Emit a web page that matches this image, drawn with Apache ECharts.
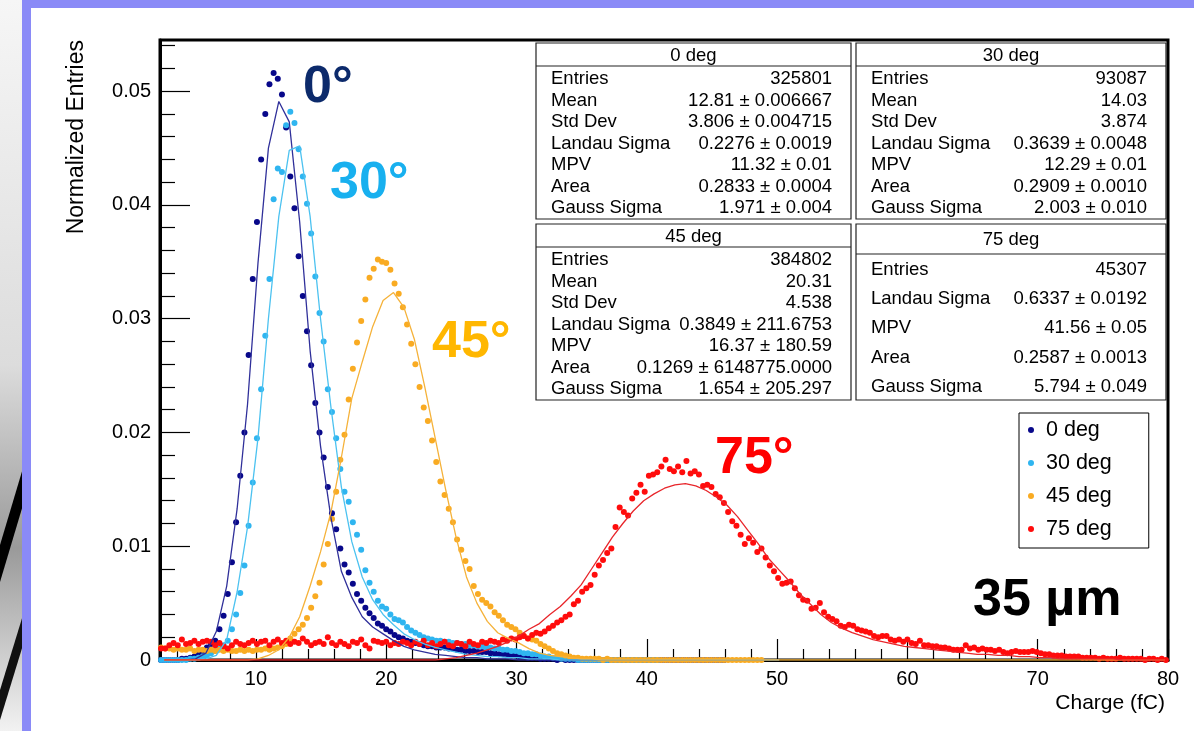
<!DOCTYPE html>
<html lang="en">
<head>
  <meta charset="UTF-8">
  <title>Charge 35 µm</title>
  <script src="https://cdn.jsdelivr.net/npm/echarts@6/dist/echarts.min.js"></script>
  <style>
    html, body { margin: 0; padding: 0; background: #fff; }
    #chart { width: 1194px; height: 731px; }
  </style>
</head>
<body>
  <div id="chart"></div>
  <script>
    // histogram bins: 0.32 fC wide, centre of first visible bin
    const binStart = 2.72
    const binWidth = 0.32
    // fit curves are sampled every 0.8 fC
    const fitStart = 2.96
    const fitStep = 0.8

    const xMajor = [10, 20, 30, 40, 50, 60, 70, 80]
    const xMinor = [4, 6, 8, 12, 14, 16, 18, 22, 24, 26, 28, 32, 34, 36, 38, 42, 44, 46, 48,
      52, 54, 56, 58, 62, 64, 66, 68, 72, 74, 76, 78]
    const yMajor = [0, 0.01, 0.02, 0.03, 0.04, 0.05]
    const yMinor = [0.002, 0.004, 0.006, 0.008, 0.012, 0.014, 0.016, 0.018, 0.022, 0.024, 0.026, 0.028,
      0.032, 0.034, 0.036, 0.038, 0.042, 0.044, 0.046, 0.048, 0.052, 0.054]

    const names = ['0 deg', '30 deg', '45 deg', '75 deg']

    // 0 deg histogram (rows of 10 bins, row start in comment)
    const deg0 = [
      0, 0, 0, 0, 0, 0.0001, 0.0001, 0.0002, 0.0003, 0.0005,                              // 2.72
      0.0008, 0.0011, 0.0014, 0.0017, 0.0027, 0.0039, 0.0058, 0.0086, 0.0121, 0.0162,     // 5.92
      0.0200, 0.0268, 0.0335, 0.0385, 0.0440, 0.0480, 0.0506, 0.0516, 0.0511, 0.0497,     // 9.12
      0.0468, 0.0425, 0.0397, 0.0355, 0.0320, 0.0289, 0.0259, 0.0226, 0.0200, 0.0178,     // 12.32
      0.0152, 0.0129, 0.0115, 0.0098, 0.0084, 0.0077, 0.0067, 0.0058, 0.0052, 0.0046,     // 15.52
      0.0041, 0.0037, 0.0032, 0.0030, 0.0027, 0.0025, 0.0022, 0.0020, 0.0019, 0.0017,     // 18.72
      0.0016, 0.0015, 0.0014, 0.0013, 0.0012, 0.0012, 0.0011, 0.0011, 0.0011, 0.0010,     // 21.92
      0.0010, 0.0009, 0.0009, 0.0008, 0.0008, 0.0008, 0.0007, 0.0007, 0.0007, 0.0006,     // 25.12
      0.0006, 0.0005, 0.0005, 0.0005, 0.0004, 0.0004, 0.0003, 0.0003, 0.0002, 0.0002,     // 28.32
      0.0002, 0.0001, 0.0001, 0.0001, 0.0001, 0, 0.0001, 0, 0, 0,                         // 31.52
      0, 0, 0, 0, 0, 0, 0, 0, 0, 0,                                                       // 34.72
      0, 0, 0, 0, 0, 0, 0, 0, 0, 0,                                                       // 37.92
      0, 0, 0, 0, 0, 0, 0, 0, 0, 0,                                                       // 41.12
      0, 0, 0, 0, 0, 0                                                                    // 44.32
    ]
    const deg30 = [
      0, 0, 0, 0, 0, 0, 0, 0.0001, 0.0001, 0.0002,                                        // 2.72
      0.0003, 0.0004, 0.0006, 0.0008, 0.0010, 0.0013, 0.0017, 0.0027, 0.0040, 0.0059,     // 5.92
      0.0083, 0.0118, 0.0156, 0.0195, 0.0238, 0.0285, 0.0335, 0.0405, 0.0432, 0.0429,     // 9.12
      0.0470, 0.0482, 0.0472, 0.0449, 0.0425, 0.0401, 0.0375, 0.0337, 0.0305, 0.0280,     // 12.32
      0.0238, 0.0218, 0.0195, 0.0168, 0.0148, 0.0139, 0.0121, 0.0110, 0.0097, 0.0079,     // 15.52
      0.0068, 0.0060, 0.0052, 0.0047, 0.0045, 0.0040, 0.0036, 0.0035, 0.0033, 0.0029,     // 18.72
      0.0026, 0.0024, 0.0022, 0.0020, 0.0019, 0.0018, 0.0017, 0.0017, 0.0016, 0.0016,     // 21.92
      0.0015, 0.0015, 0.0014, 0.0014, 0.0013, 0.0013, 0.0012, 0.0012, 0.0011, 0.0011,     // 25.12
      0.0010, 0.0010, 0.0009, 0.0009, 0.0008, 0.0008, 0.0007, 0.0006, 0.0006, 0.0005,     // 28.32
      0.0005, 0.0004, 0.0003, 0.0003, 0.0002, 0.0002, 0.0001, 0.0001, 0.0001, 0.0001,     // 31.52
      0, 0, 0, 0, 0, 0, 0, 0, 0, 0,                                                       // 34.72
      0, 0, 0, 0, 0, 0, 0, 0, 0, 0                                                        // 37.92
    ]
    const deg45 = [
      0.0011, 0.0010, 0.0010, 0.0009, 0.0010, 0.0009, 0.0009, 0.0010, 0.0008, 0.0009,     // 2.72
      0.0009, 0.0008, 0.0009, 0.0008, 0.0009, 0.0008, 0.0009, 0.0008, 0.0008, 0.0009,     // 5.92
      0.0008, 0.0009, 0.0008, 0.0009, 0.0009, 0.0010, 0.0009, 0.0010, 0.0011, 0.0012,     // 9.12
      0.0014, 0.0019, 0.0023, 0.0027, 0.0031, 0.0037, 0.0046, 0.0056, 0.0068, 0.0084,     // 12.32
      0.0102, 0.0124, 0.0148, 0.0176, 0.0198, 0.0229, 0.0256, 0.0279, 0.0298, 0.0317,     // 15.52
      0.0336, 0.0344, 0.0352, 0.0350, 0.0349, 0.0343, 0.0331, 0.0322, 0.0310, 0.0295,     // 18.72
      0.0278, 0.0260, 0.0240, 0.0222, 0.0210, 0.0193, 0.0174, 0.0157, 0.0145, 0.0133,     // 21.92
      0.0121, 0.0106, 0.0097, 0.0087, 0.0080, 0.0065, 0.0058, 0.0053, 0.0050, 0.0047,     // 25.12
      0.0042, 0.0039, 0.0035, 0.0031, 0.0029, 0.0027, 0.0024, 0.0021, 0.0019, 0.0018,     // 28.32
      0.0017, 0.0014, 0.0012, 0.0010, 0.0008, 0.0006, 0.0005, 0.0004, 0.0003, 0.0002,     // 31.52
      0.0002, 0.0001, 0.0001, 0.0001, 0.0001, 0.0001, 0, 0.0001, 0, 0,                    // 34.72
      0, 0, 0, 0, 0, 0, 0, 0, 0, 0,                                                       // 37.92
      0, 0, 0, 0, 0, 0, 0, 0, 0, 0,                                                       // 41.12
      0, 0, 0, 0, 0, 0, 0, 0, 0, 0,                                                       // 44.32
      0, 0, 0, 0, 0                                                                       // 47.52
    ]
    const deg75 = [
      0.0010, 0.0010, 0.0013, 0.0015, 0.0013, 0.0018, 0.0014, 0.0015, 0.0017, 0.0014,     // 2.72
      0.0016, 0.0017, 0.0016, 0.0013, 0.0015, 0.0012, 0.0010, 0.0013, 0.0016, 0.0014,     // 5.92
      0.0013, 0.0015, 0.0017, 0.0014, 0.0016, 0.0017, 0.0013, 0.0016, 0.0018, 0.0015,     // 9.12
      0.0017, 0.0014, 0.0016, 0.0015, 0.0019, 0.0016, 0.0013, 0.0015, 0.0016, 0.0014,     // 12.32
      0.0020, 0.0015, 0.0013, 0.0016, 0.0014, 0.0012, 0.0016, 0.0015, 0.0018, 0.0013,     // 15.52
      0.0010, 0.0017, 0.0016, 0.0015, 0.0016, 0.0013, 0.0015, 0.0014, 0.0016, 0.0015,     // 18.72
      0.0013, 0.0016, 0.0014, 0.0017, 0.0013, 0.0015, 0.0012, 0.0014, 0.0016, 0.0013,     // 21.92
      0.0012, 0.0015, 0.0014, 0.0012, 0.0016, 0.0014, 0.0013, 0.0016, 0.0015, 0.0017,     // 25.12
      0.0016, 0.0015, 0.0018, 0.0017, 0.0019, 0.0018, 0.0020, 0.0021, 0.0019, 0.0022,     // 28.32
      0.0024, 0.0023, 0.0025, 0.0028, 0.0030, 0.0033, 0.0035, 0.0038, 0.0040, 0.0049,     // 31.52
      0.0052, 0.0060, 0.0063, 0.0066, 0.0075, 0.0083, 0.0088, 0.0094, 0.0098, 0.0117,     // 34.72
      0.0134, 0.0130, 0.0127, 0.0142, 0.0147, 0.0154, 0.0148, 0.0162, 0.0163, 0.0165,     // 37.92
      0.0170, 0.0176, 0.0168, 0.0166, 0.0170, 0.0165, 0.0175, 0.0164, 0.0166, 0.0163,     // 41.12
      0.0153, 0.0154, 0.0152, 0.0146, 0.0143, 0.0138, 0.0130, 0.0122, 0.0118, 0.0110,     // 44.32
      0.0102, 0.0107, 0.0103, 0.0095, 0.0098, 0.0090, 0.0083, 0.0078, 0.0072, 0.0067,     // 47.52
      0.0068, 0.0069, 0.0063, 0.0057, 0.0053, 0.0052, 0.0045, 0.0046, 0.0050, 0.0042,     // 50.72
      0.0038, 0.0036, 0.0034, 0.0030, 0.0029, 0.0031, 0.0030, 0.0027, 0.0026, 0.0025,     // 53.92
      0.0024, 0.0021, 0.0020, 0.0021, 0.0021, 0.0018, 0.0017, 0.0018, 0.0016, 0.0018,     // 57.12
      0.0015, 0.0014, 0.0017, 0.0013, 0.0013, 0.0012, 0.0012, 0.0011, 0.0011, 0.0010,     // 60.32
      0.0009, 0.0009, 0.0009, 0.0013, 0.0010, 0.0011, 0.0009, 0.0010, 0.0009, 0.0009,     // 63.52
      0.0008, 0.0009, 0.0007, 0.0006, 0.0007, 0.0008, 0.0007, 0.0007, 0.0007, 0.0008,     // 66.72
      0.0007, 0.0006, 0.0005, 0.0005, 0.0004, 0.0004, 0.0004, 0.0003, 0.0003, 0.0003,     // 69.92
      0.0003, 0.0002, 0.0002, 0.0002, 0.0002, 0.0001, 0.0002, 0.0001, 0.0001, 0.0001,     // 73.12
      0.0002, 0.0001, 0.0001, 0.0001, 0.0001, 0.0001, 0, 0.0001, 0.0001, 0,               // 76.32
      0.0001, 0                                                                           // 79.52
    ]

    // Landau (x) Gauss fits, rows of 10 samples
    const fit0 = [
      0, 0, 0, 0.0001, 0.0006, 0.0025, 0.0065, 0.0133, 0.0225, 0.0349,                   // 2.96
      0.0450, 0.0491, 0.0473, 0.0385, 0.0272, 0.0188, 0.0125, 0.0078, 0.0055, 0.0038,     // 10.96
      0.0029, 0.0023, 0.0017, 0.0012, 0.0009, 0.0007, 0.0005, 0.0004, 0.0003, 0.0002,     // 18.96
      0.0002, 0.0001, 0.0001, 0.0001, 0, 0, 0, 0, 0, 0,                                   // 26.96
      0, 0, 0, 0, 0, 0, 0, 0, 0, 0,                                                       // 34.96
      0, 0, 0, 0, 0, 0, 0, 0, 0, 0                                                        // 42.96
    ]
    const fit30 = [
      0, 0, 0, 0, 0.0001, 0.0004, 0.0018, 0.0060, 0.0117, 0.0195,                         // 2.96
      0.0300, 0.0390, 0.0448, 0.0452, 0.0390, 0.0300, 0.0222, 0.0152, 0.0104, 0.0073,     // 10.96
      0.0053, 0.0040, 0.0031, 0.0023, 0.0018, 0.0014, 0.0011, 0.0009, 0.0007, 0.0005,     // 18.96
      0.0004, 0.0003, 0.0003, 0.0002, 0.0002, 0.0001, 0.0001, 0.0001, 0, 0,               // 26.96
      0, 0, 0, 0, 0, 0, 0, 0, 0, 0,                                                       // 34.96
      0, 0, 0, 0, 0, 0, 0, 0, 0, 0                                                        // 42.96
    ]
    const fit45 = [
      0, 0, 0, 0, 0, 0, 0, 0, 0, 0.0001,                                                  // 2.96
      0.0004, 0.0009, 0.0020, 0.0038, 0.0065, 0.0095, 0.0130, 0.0178, 0.0230, 0.0262,     // 10.96
      0.0293, 0.0316, 0.0323, 0.0310, 0.0282, 0.0240, 0.0195, 0.0150, 0.0108, 0.0073,     // 18.96
      0.0050, 0.0034, 0.0024, 0.0019, 0.0015, 0.0010, 0.0006, 0.0004, 0.0003, 0.0002,     // 26.96
      0.0001, 0.0001, 0, 0, 0, 0, 0, 0, 0, 0,                                             // 34.96
      0, 0, 0, 0, 0, 0, 0, 0, 0, 0,                                                       // 42.96
      0, 0, 0, 0, 0, 0, 0, 0, 0, 0,                                                       // 50.96
      0, 0, 0, 0, 0, 0, 0, 0, 0, 0,                                                       // 58.96
      0, 0, 0, 0, 0, 0, 0, 0, 0, 0,                                                       // 66.96
      0, 0, 0, 0, 0, 0, 0                                                                 // 74.96
    ]
    const fit75 = [
      0, 0, 0, 0, 0, 0, 0, 0, 0, 0,                                                       // 2.96
      0, 0, 0, 0, 0, 0, 0, 0, 0, 0,                                                       // 10.96
      0, 0, 0, 0, 0, 0, 0, 0.0001, 0.0002, 0.0004,                                        // 18.96
      0.0006, 0.0009, 0.0012, 0.0016, 0.0021, 0.0027, 0.0032, 0.0040, 0.0047, 0.0056,     // 26.96
      0.0066, 0.0080, 0.0094, 0.0108, 0.0120, 0.0131, 0.0140, 0.0146, 0.0151, 0.0154,     // 34.96
      0.0155, 0.0153, 0.0149, 0.0143, 0.0136, 0.0126, 0.0114, 0.0102, 0.0089, 0.0079,     // 42.96
      0.0069, 0.0058, 0.0049, 0.0040, 0.0033, 0.0028, 0.0024, 0.0021, 0.0018, 0.0016,     // 50.96
      0.0014, 0.0012, 0.0011, 0.0010, 0.0009, 0.0008, 0.0007, 0.0006, 0.0005, 0.0005,     // 58.96
      0.0004, 0.0004, 0.0003, 0.0003, 0.0002, 0.0002, 0.0001, 0.0001, 0.0001, 0.0001,     // 66.96
      0.0001, 0.0001, 0, 0, 0, 0, 0                                                       // 74.96
    ]

    // stat boxes text
    const statTitles = ['0 deg', '30 deg', '45 deg', '75 deg']
    const statRows = [
      [['Entries', '325801'], ['Mean', '12.81 ± 0.006667'], ['Std Dev', '3.806 ± 0.004715'],
        ['Landau Sigma', '0.2276 ± 0.0019'], ['MPV', '11.32 ± 0.01'], ['Area', '0.2833 ± 0.0004'],
        ['Gauss Sigma', '1.971 ± 0.004']],
      [['Entries', '93087'], ['Mean', '14.03'], ['Std Dev', '3.874'],
        ['Landau Sigma', '0.3639 ± 0.0048'], ['MPV', '12.29 ± 0.01'], ['Area', '0.2909 ± 0.0010'],
        ['Gauss Sigma', '2.003 ± 0.010']],
      [['Entries', '384802'], ['Mean', '20.31'], ['Std Dev', '4.538'],
        ['Landau Sigma', '0.3849 ± 211.6753'], ['MPV', '16.37 ± 180.59'], ['Area', '0.1269 ± 6148775.0000'],
        ['Gauss Sigma', '1.654 ± 205.297']],
      [['Entries', '45307'], ['Landau Sigma', '0.6337 ± 0.0192'], ['MPV', '41.56 ± 0.05'],
        ['Area', '0.2587 ± 0.0013'], ['Gauss Sigma', '5.794 ± 0.049']]
    ]

    const colors = ['#08088a', '#2fb5f0', '#f9ab22', '#ff0c0c']
    const fitColors = ['#30309a', '#4cc2f0', '#f5b23a', '#e8262b']
    const font = '"Liberation Sans", Arial, Helvetica, sans-serif'

    function toPoints(start, step, values) {
      return values.map((v, i) => [+(start + i * step).toFixed(2), v])
    }

    const hists = [deg0, deg30, deg45, deg75]
    const fits = [fit0, fit30, fit45, fit75]

    const series = []
    hists.forEach((h, i) => {
      series.push({
        name: names[i],
        type: 'scatter',
        symbol: 'circle',
        symbolSize: 6,
        itemStyle: { color: colors[i], opacity: 1 },
        data: toPoints(binStart, binWidth, h),
        z: 2,
        silent: true
      })
    })
    fits.forEach((f, i) => {
      series.push({
        name: names[i] + ' fit',
        type: 'line',
        symbol: 'none',
        lineStyle: { color: fitColors[i], width: 1.3 },
        data: toPoints(fitStart, fitStep, f),
        z: 3,
        silent: true
      })
    })

    // stat boxes drawn as graphic elements
    const boxPos = [
      { x: 536, y: 43, w: 315, h: 176, head: 23, row0: 79, step: 21.5 },
      { x: 856, y: 43, w: 310, h: 176, head: 23, row0: 79, step: 21.5 },
      { x: 536, y: 224, w: 315, h: 176, head: 23, row0: 260, step: 21.5 },
      { x: 856, y: 224, w: 310, h: 176, head: 30, row0: 270, step: 29.2 }
    ]
    const graphic = [
      // slide frame around the picture
      {
        type: 'rect', shape: { x: 0, y: 0, width: 23, height: 731 },
        style: { fill: new echarts.graphic.LinearGradient(0, 0, 0, 1, [
          { offset: 0, color: '#f6f6f6' }, { offset: 0.5, color: '#dcdcdc' },
          { offset: 0.75, color: '#9a9a9a' }, { offset: 1, color: '#f2f2f2' }]) }
      },
      { type: 'polygon', shape: { points: [[0, 545], [23, 468], [23, 505], [0, 582]] }, style: { fill: '#000' } },
      { type: 'polygon', shape: { points: [[0, 690], [23, 615], [23, 645], [0, 720]] }, style: { fill: '#111' } },
      { type: 'rect', shape: { x: 22, y: 0, width: 1172, height: 8 }, style: { fill: '#8a8af7' } },
      { type: 'rect', shape: { x: 22, y: 0, width: 9, height: 731 }, style: { fill: '#8a8af7' } },
      // axis titles
      {
        type: 'text', x: 77, y: 40, rotation: Math.PI / 2,
        style: { text: 'Normalized Entries', fontSize: 23, fontFamily: font, fill: '#000', align: 'right', verticalAlign: 'middle' }
      },
      {
        type: 'text', x: 1165, y: 703,
        style: { text: 'Charge (fC)', fontSize: 21, fontFamily: font, fill: '#000', align: 'right', verticalAlign: 'middle' }
      }
    ]
    // big angle labels
    const bigLabels = [
      ['0°', 303, 88, '#0c2a6b'], ['30°', 330, 184, '#18b0ef'], ['45°', 432, 343, '#ffb700'],
      ['75°', 715, 459, '#ff0000'], ['35 µm', 973, 601, '#000']
    ]
    bigLabels.forEach(([t, x, y, c]) => {
      graphic.push({
        type: 'text', x: x, y: y,
        style: { text: t, fontSize: 52, fontWeight: 'bold', fontFamily: font, fill: c, align: 'left', verticalAlign: 'middle' }
      })
    })
    boxPos.forEach((b, i) => {
      graphic.push({ type: 'rect', shape: { x: b.x, y: b.y, width: b.w, height: b.h }, style: { fill: '#fff', stroke: '#222', lineWidth: 1.2 } })
      graphic.push({ type: 'line', shape: { x1: b.x, y1: b.y + b.head, x2: b.x + b.w, y2: b.y + b.head }, style: { stroke: '#222', lineWidth: 1.2 } })
      graphic.push({
        type: 'text', x: b.x + b.w / 2, y: b.y + b.head / 2 + 1,
        style: { text: statTitles[i], fontSize: 18.5, fontFamily: font, fill: '#000', align: 'center', verticalAlign: 'middle' }
      })
      statRows[i].forEach((r, j) => {
        const y = b.row0 + j * b.step
        graphic.push({ type: 'text', x: b.x + 15, y: y, style: { text: r[0], fontSize: 18.5, fontFamily: font, fill: '#000', align: 'left', verticalAlign: 'middle' } })
        graphic.push({ type: 'text', x: b.x + b.w - 19, y: y, style: { text: r[1], fontSize: 18.5, fontFamily: font, fill: '#000', align: 'right', verticalAlign: 'middle' } })
      })
    })

    const chart = echarts.init(document.getElementById('chart'))
    const tickStyle = { color: '#000', width: 1.2 }
    chart.setOption({
      animation: false,
      backgroundColor: '#fff',
      grid: { left: 160, right: 26, top: 40, bottom: 71, show: true, borderColor: '#000', borderWidth: 3 },
      legend: {
        data: names,
        orient: 'vertical',
        left: 1019,
        top: 413,
        padding: [6, 37, 8, 9],
        itemGap: 11,
        itemWidth: 14,
        itemHeight: 6,
        icon: 'circle',
        borderColor: '#000',
        borderWidth: 1,
        backgroundColor: '#fff',
        selectedMode: false,
        textStyle: { fontSize: 21.5, color: '#000', fontFamily: font, padding: [0, 0, 0, 3] }
      },
      xAxis: [{
        type: 'value', min: 2.64, max: 80, position: 'bottom',
        axisLine: { lineStyle: { color: '#000', width: 3 } },
        axisTick: { inside: true, length: 21, customValues: xMajor, lineStyle: tickStyle },
        axisLabel: { customValues: xMajor, fontSize: 20, color: '#000', fontFamily: font, margin: 9 },
        splitLine: { show: false }
      }, {
        type: 'value', min: 2.64, max: 80, position: 'bottom',
        axisLine: { show: false },
        axisTick: { inside: true, length: 11, customValues: xMinor, lineStyle: tickStyle },
        axisLabel: { show: false },
        splitLine: { show: false }
      }],
      yAxis: [{
        type: 'value', min: 0, max: 0.0545, position: 'left',
        axisLine: { show: true, lineStyle: { color: '#000', width: 3 } },
        axisTick: { show: true, inside: true, length: 30, customValues: yMajor, lineStyle: tickStyle },
        axisLabel: {
          customValues: yMajor, fontSize: 20, color: '#000', fontFamily: font, margin: 9,
          formatter: v => (v === 0 ? '0' : v.toFixed(2))
        },
        splitLine: { show: false }
      }, {
        type: 'value', min: 0, max: 0.0545, position: 'left',
        axisLine: { show: false },
        axisTick: { show: true, inside: true, length: 15, customValues: yMinor, lineStyle: tickStyle },
        axisLabel: { show: false },
        splitLine: { show: false }
      }],
      graphic: graphic,
      series: series
    })
  </script>
</body>
</html>
